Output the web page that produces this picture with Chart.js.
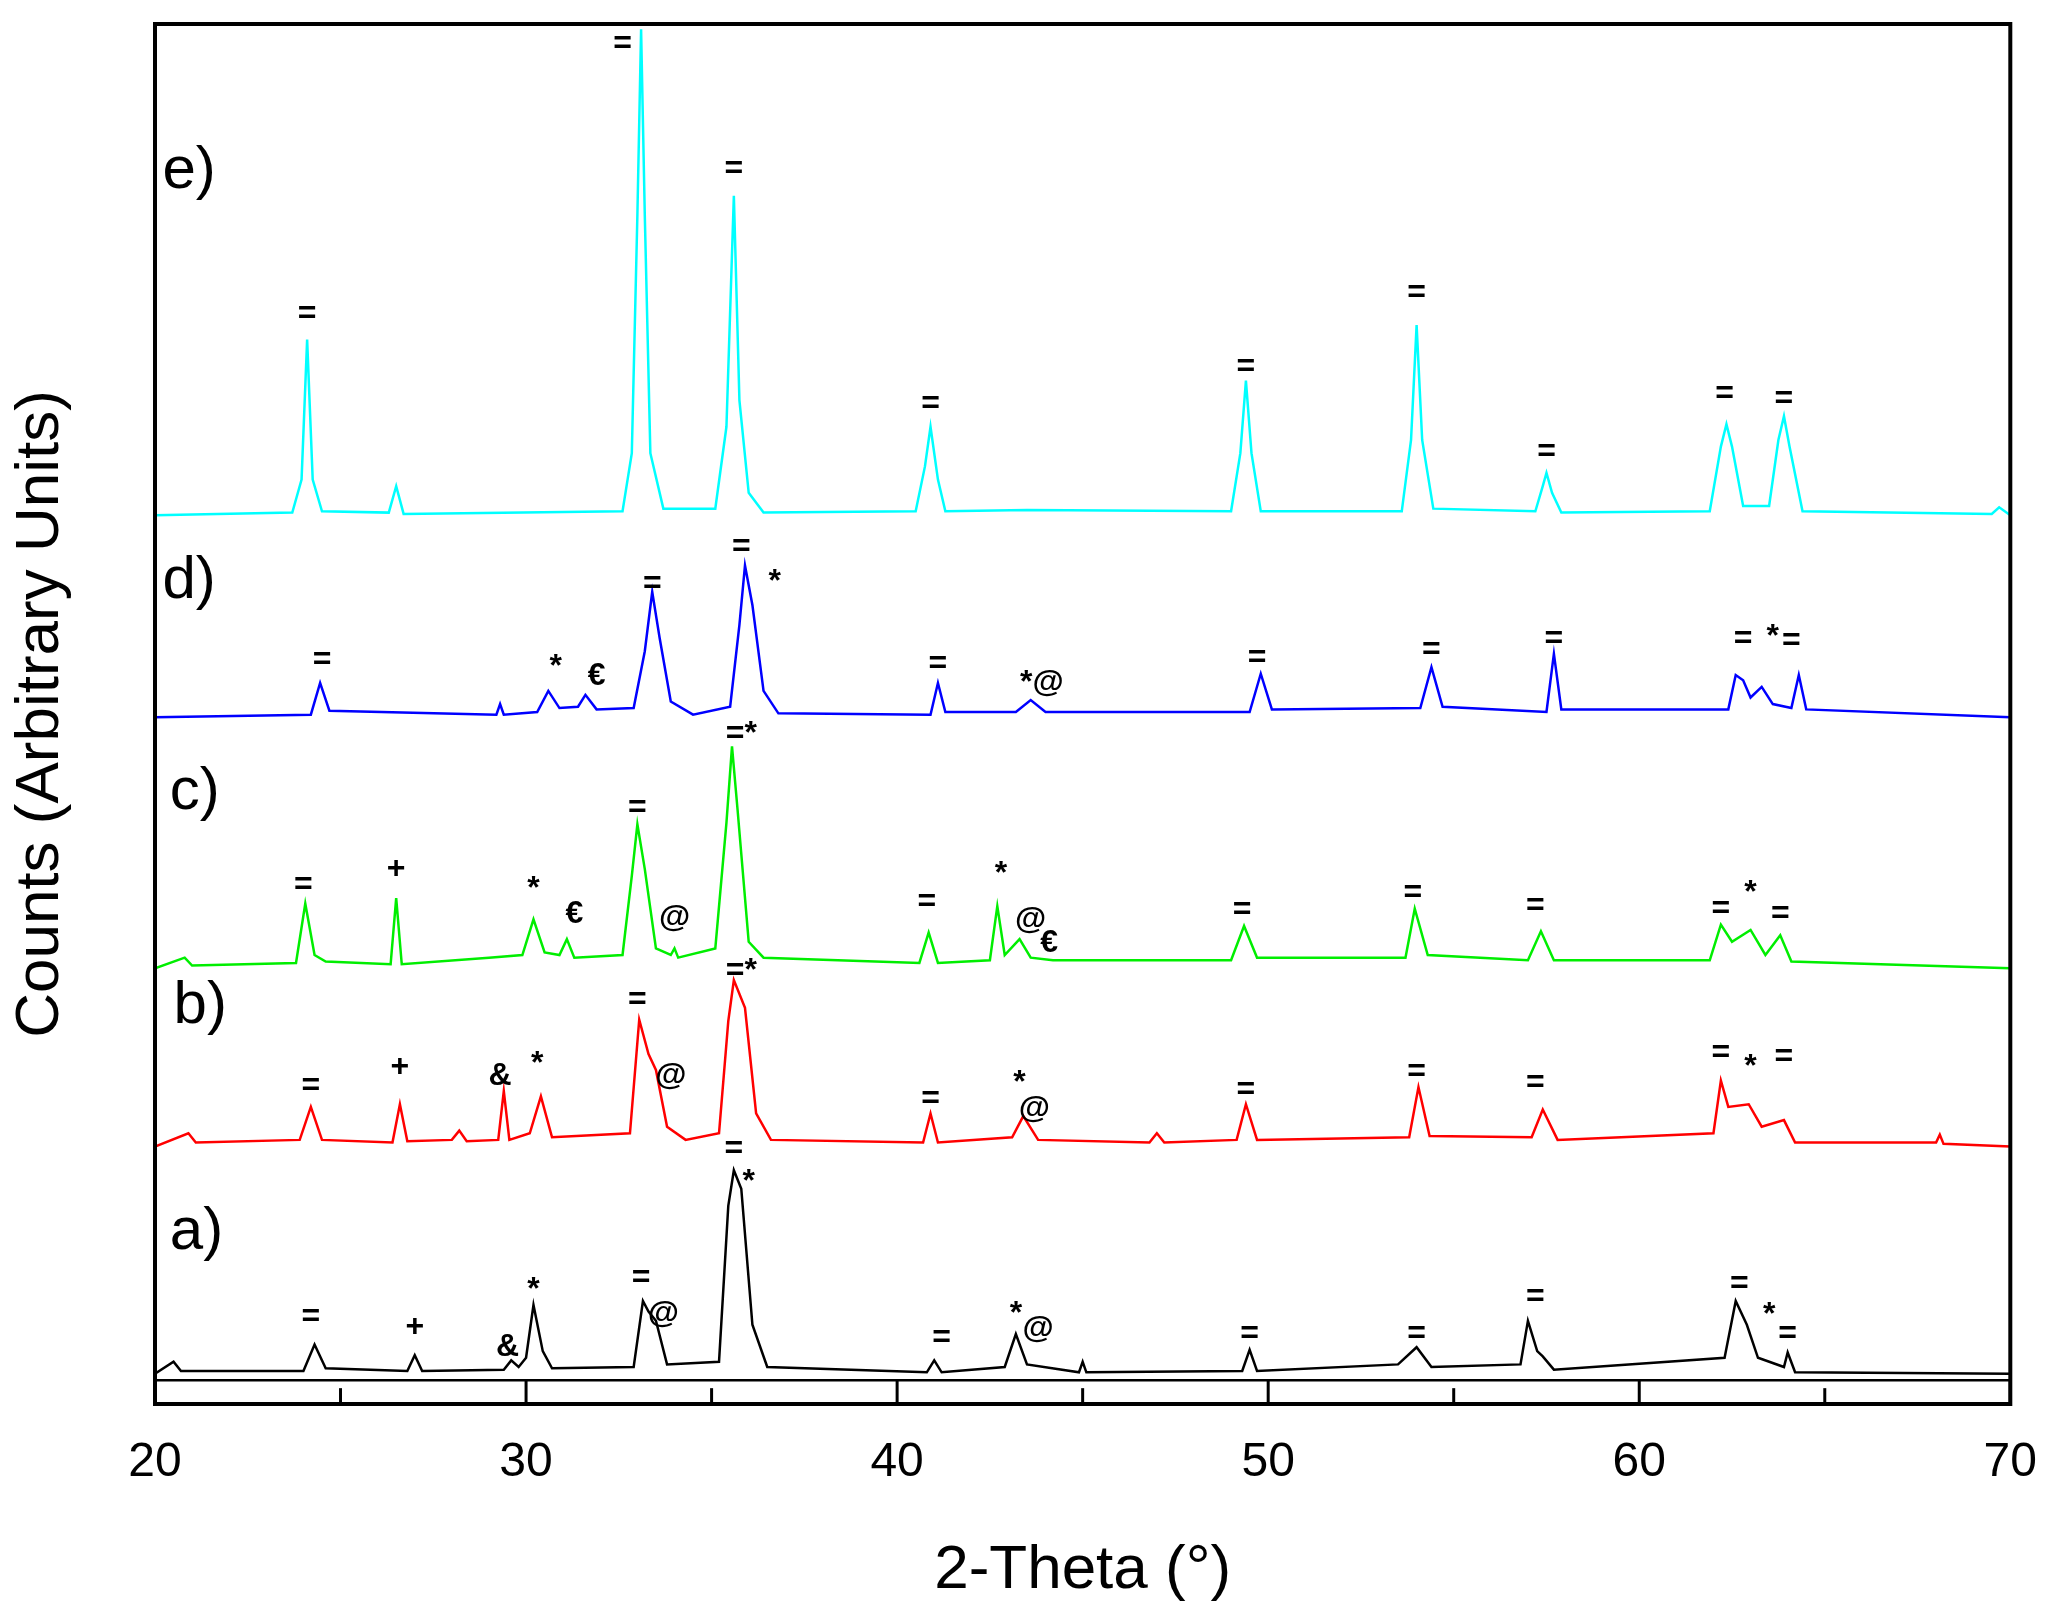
<!DOCTYPE html>
<html><head><meta charset="utf-8">
<script src="https://cdn.jsdelivr.net/npm/chart.js@4/dist/chart.umd.min.js"></script>
<style>html,body{margin:0;padding:0;background:#fff}</style></head>
<body><canvas id="c" width="2059" height="1612"></canvas>
<script>
const seriesA=[[20,23],[20.5,32],[20.7,25],[24.0,25],[24.3,45],[24.6,27],[26.8,25],[27.0,37],[27.2,25],[29.4,26],[29.6,33],[29.8,28],[30.0,35],[30.2,75],[30.45,40],[30.7,27],[32.9,28],[33.15,78],[33.3,70],[33.5,63],[33.8,30],[35.2,32],[35.45,150],[35.6,177],[35.8,163],[36.1,60],[36.5,28],[40.8,24],[41.0,33],[41.2,24],[42.9,28],[43.2,53],[43.5,30],[44.9,24],[45.0,32],[45.1,24],[49.3,25],[49.5,41],[49.7,25],[53.5,30],[54.0,43],[54.4,28],[56.8,30],[57.0,63],[57.25,40],[57.4,36],[57.7,26],[62.3,35],[62.6,78],[62.9,60],[63.2,35],[63.9,28],[64.0,39],[64.2,24],[70,23]];
const seriesB=[[20,195],[20.9,205],[21.1,198],[23.9,200],[24.2,225],[24.5,200],[26.4,198],[26.6,227],[26.8,199],[28.0,200],[28.2,207],[28.4,199],[29.25,200],[29.4,237],[29.55,200],[30.1,205],[30.4,233],[30.7,202],[32.8,205],[33.05,291],[33.3,265],[33.5,253],[33.8,210],[34.3,200],[35.2,205],[35.45,290],[35.6,321],[35.9,300],[36.2,220],[36.6,200],[40.7,198],[40.9,220],[41.1,198],[43.1,202],[43.4,218],[43.8,200],[46.8,198],[47.0,205],[47.2,198],[49.15,200],[49.4,227],[49.7,200],[53.8,202],[54.05,240],[54.35,203],[57.1,202],[57.4,223],[57.8,200],[62.0,205],[62.2,245],[62.4,225],[62.95,227],[63.3,210],[63.9,215],[64.2,198],[68.0,198],[68.1,204],[68.2,197],[70,195]];
const seriesC=[[20,330],[20.8,338],[21,332],[23.8,334],[24.05,379],[24.3,340],[24.6,335],[26.35,333],[26.5,383],[26.65,333],[29.0,338],[29.9,340],[30.2,367],[30.5,342],[30.9,340],[31.1,352],[31.3,338],[32.6,340],[32.85,400],[33.0,439],[33.2,405],[33.5,345],[33.9,340],[34.0,345],[34.1,338],[35.1,345],[35.4,440],[35.55,498],[35.7,450],[36.0,350],[36.4,338],[40.6,334],[40.85,357],[41.1,334],[42.5,336],[42.7,377],[42.9,340],[43.3,352],[43.6,338],[44.2,336],[49.0,336],[49.35,362],[49.7,338],[53.7,338],[53.95,375],[54.3,340],[57.0,336],[57.35,358],[57.7,336],[61.9,336],[62.2,363],[62.5,350],[63.0,359],[63.4,340],[63.8,355],[64.1,335],[70,330]];
const seriesD=[[20,520],[24.2,522],[24.45,546],[24.7,525],[29.2,522],[29.3,530],[29.4,522],[30.3,524],[30.6,540],[30.9,527],[31.4,528],[31.6,537],[31.9,526],[32.9,527],[33.2,570],[33.4,615],[33.6,580],[33.9,532],[34.5,522],[35.5,528],[35.75,590],[35.9,635],[36.1,605],[36.4,540],[36.8,523],[40.9,522],[41.1,546],[41.3,524],[43.2,524],[43.6,533],[44.0,524],[49.5,524],[49.8,553],[50.1,526],[54.1,527],[54.4,558],[54.7,528],[57.5,524],[57.7,568],[57.9,526],[62.4,526],[62.6,552],[62.8,548],[63.0,535],[63.3,543],[63.6,530],[64.1,527],[64.3,552],[64.5,526],[70,520]];
const seriesE=[[20,673],[23.7,675],[23.95,700],[24.1,806],[24.25,700],[24.5,676],[26.3,675],[26.5,695],[26.7,674],[32.6,676],[32.85,720],[33.0,900],[33.1,1041],[33.2,900],[33.35,720],[33.7,678],[35.1,678],[35.4,740],[35.6,915],[35.75,760],[36.0,690],[36.4,675],[40.5,676],[40.75,710],[40.9,740],[41.1,700],[41.3,676],[43.5,677],[49.0,676],[49.25,720],[49.4,775],[49.55,720],[49.8,676],[53.6,676],[53.85,730],[54.0,817],[54.15,730],[54.45,678],[57.2,676],[57.4,695],[57.5,705],[57.65,690],[57.9,675],[61.9,676],[62.2,725],[62.35,742],[62.5,725],[62.8,680],[63.5,680],[63.75,730],[63.9,748],[64.05,725],[64.4,676],[69.5,674],[69.7,679],[70,673]];
const baseline=[[20,18],[70,18]];
const seriesLabels=[[20.2,933,'e)'],[20.2,623,'d)'],[20.4,463,'c)'],[20.5,301,'b)'],[20.4,130,'a)']];
const marks=[
[24.1,825,'='],[32.6,1030,'='],[35.6,935,'='],[40.9,757,'='],[49.4,785,'='],[54.0,841,'='],[57.5,721,'='],[62.3,765,'='],[63.9,761,'='],
[24.5,563,'='],[30.8,558,'*'],[31.9,551,'€'],[33.4,621,'='],[35.8,649,'='],[36.7,622,'*'],[41.1,560,'='],[43.9,546,'*@'],[49.7,565,'='],[54.4,571,'='],[57.7,579,'='],[62.8,579,'='],[63.6,581,'*'],[64.1,578,'='],
[24.0,393,'='],[26.5,405,'+'],[30.2,390,'*'],[31.3,371,'€'],[33.0,451,'='],[34.0,368,'@'],[35.8,507,'=*'],[40.8,380,'='],[42.8,401,'*'],[43.6,366,'@'],[44.1,349,'€'],[49.3,374,'='],[53.9,387,'='],[57.2,377,'='],[62.2,375,'='],[63.0,387,'*'],[63.8,371,'='],
[24.2,241,'='],[26.6,255,'+'],[29.3,248,'&'],[30.3,257,'*'],[33.0,306,'='],[33.9,248,'@'],[35.8,328,'=*'],[40.9,231,'='],[43.3,243,'*'],[43.7,223,'@'],[49.4,238,'='],[54.0,251,'='],[57.2,243,'='],[62.2,266,'='],[63.0,255,'*'],[63.9,263,'='],
[24.2,66,'='],[27.0,58,'+'],[29.5,43,'&'],[30.2,86,'*'],[33.1,95,'='],[33.7,68,'@'],[35.6,193,'='],[36.0,168,'*'],[41.2,50,'='],[43.2,68,'*'],[43.8,57,'@'],[49.5,53,'='],[54.0,53,'='],[57.2,81,'='],[62.7,91,'='],[63.5,67,'*'],[64.0,53,'=']];
const xTicks=[20,30,40,50,60,70];
const minorTicks=[25,35,45,55,65];
const FONT='"Liberation Sans", Arial, sans-serif';
const mk=(d,c)=>({data:d.map(p=>({x:p[0],y:p[1]})),borderColor:c,borderWidth:2.5,pointRadius:0,tension:0,fill:false});
const deco={id:'deco',afterDatasetsDraw(ch){
 const {ctx,scales:{x,y},chartArea:a}=ch;ctx.save();
 ctx.fillStyle='#000';ctx.textAlign='center';ctx.textBaseline='middle';
 ctx.font='bold 32px '+FONT;
 marks.forEach(m=>ctx.fillText(m[2],x.getPixelForValue(m[0]),y.getPixelForValue(m[1])));
 ctx.font='60px '+FONT;ctx.textAlign='left';
 seriesLabels.forEach(m=>ctx.fillText(m[2],x.getPixelForValue(m[0]),y.getPixelForValue(m[1])));
 ctx.strokeStyle='#000';ctx.lineWidth=3;
 xTicks.forEach(t=>{const px=x.getPixelForValue(t);ctx.beginPath();ctx.moveTo(px,y.getPixelForValue(0));ctx.lineTo(px,y.getPixelForValue(18));ctx.stroke();});
 minorTicks.forEach(t=>{const px=x.getPixelForValue(t);ctx.beginPath();ctx.moveTo(px,y.getPixelForValue(0));ctx.lineTo(px,y.getPixelForValue(12));ctx.stroke();});
 ctx.lineWidth=4;ctx.strokeRect(a.left,a.top,a.right-a.left,a.bottom-a.top);
 ctx.restore();}};
new Chart(document.getElementById('c'),{type:'line',
 data:{datasets:[mk(baseline,'#000'),mk(seriesA,'#000'),mk(seriesB,'#ff0000'),mk(seriesC,'#00ee00'),mk(seriesD,'#0000ff'),mk(seriesE,'#00ffff')]},
 options:{responsive:false,animation:false,devicePixelRatio:1,
  layout:{padding:{top:24,right:41,left:0,bottom:0}},
  plugins:{legend:{display:false},tooltip:{enabled:false}},
  scales:{
   x:{type:'linear',min:20,max:70,grid:{display:false},border:{display:false},
      afterBuildTicks(s){s.ticks=xTicks.map(v=>({value:v}));},
      afterFit(s){s.height=208;},
      ticks:{color:'#000',font:{size:48,family:FONT},padding:22,maxRotation:0},
      title:{display:true,text:'2-Theta (°)',color:'#000',font:{size:62,family:FONT},padding:{top:20}}},
   y:{min:0,max:1045,grid:{display:false},border:{display:false},ticks:{display:false},
      afterFit(s){s.width=155;},
      title:{display:true,text:'Counts (Arbitrary Units)',color:'#000',font:{size:62,family:FONT},padding:{bottom:40}}}
  }},plugins:[deco]});
</script></body></html>
